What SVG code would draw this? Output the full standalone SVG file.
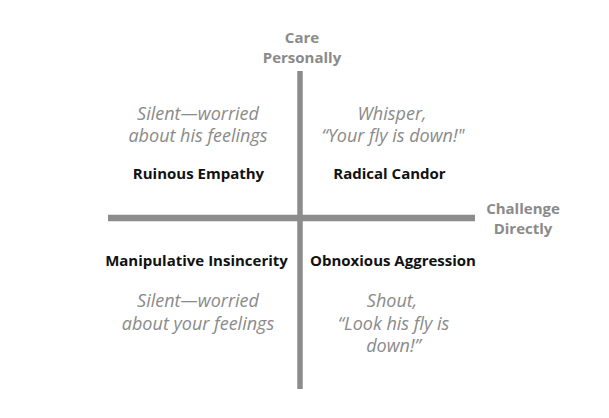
<svg xmlns="http://www.w3.org/2000/svg" width="609" height="418" viewBox="0 0 609 418">
<style>
.axis{stroke:#8c8c8c;fill:none}
.ax{font-family:"Open Sans","Noto Sans",sans-serif;font-weight:bold;font-size:15px;fill:#8a8a8a;text-anchor:middle}
.lbl{font-family:"Open Sans","Noto Sans",sans-serif;font-weight:bold;font-size:15px;fill:#111;text-anchor:middle}
.it{font-family:"Open Sans","Noto Sans",sans-serif;font-style:italic;font-size:18px;fill:#8a8a8a;text-anchor:middle}
</style>
<rect width="609" height="418" fill="#fff"/>
<g id="connectors">
<line class="axis" x1="108" y1="218" x2="475" y2="218" stroke-width="6.5"/>
<line class="axis" x1="300" y1="71" x2="300" y2="389" stroke-width="5.5"/>
</g>
<g id="axis-care"><text class="ax" x="302" y="43">Care</text><text class="ax" x="302" y="63">Personally</text></g>
<g id="axis-challenge"><text class="ax" x="523" y="214">Challenge</text><text class="ax" x="523" y="234">Directly</text></g>
<g id="ruinous-empathy">
<text class="it" x="198" y="120">Silent—worried</text>
<text class="it" x="198" y="142">about his feelings</text>
<text class="lbl" x="198.5" y="179">Ruinous Empathy</text>
</g>
<g id="radical-candor">
<text class="it" x="392" y="120">Whisper,</text>
<text class="it" x="393" y="142">“Your fly is down!"</text>
<text class="lbl" x="389.5" y="179">Radical Candor</text>
</g>
<g id="manipulative-insincerity">
<text class="lbl" x="196.5" y="266">Manipulative Insincerity</text>
<text class="it" x="198" y="307">Silent—worried</text>
<text class="it" x="198" y="330">about your feelings</text>
</g>
<g id="obnoxious-aggression">
<text class="lbl" x="393" y="266">Obnoxious Aggression</text>
<text class="it" x="392" y="307">Shout,</text>
<text class="it" x="393.5" y="330">“Look his fly is</text>
<text class="it" x="393.5" y="352">down!”</text>
</g>
</svg>
